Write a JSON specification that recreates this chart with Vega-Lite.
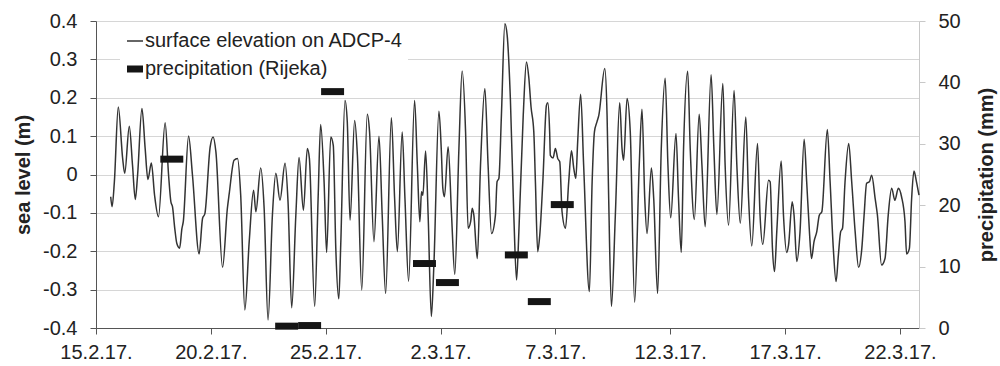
{
  "$schema": "https://vega.github.io/schema/vega-lite/v6.json",
  "width": 823,
  "height": 307,
  "autosize": "none",
  "padding": {"left": 96, "top": 21, "right": 81, "bottom": 38},
  "background": "white",
  "config": {
    "font": "Liberation Sans",
    "view": {"stroke": null},
    "axis": {"labelColor": "#222222", "titleColor": "#222222", "labelFont": "Liberation Sans", "titleFont": "Liberation Sans"},
    "legend": {"labelFont": "Liberation Sans"}
  },
  "layer": [
    {
      "data": {"values": [
        {"day":0.64,"sea":-0.058},{"day":0.70,"sea":-0.084},{"day":0.80,"sea":-0.019},{"day":0.97,"sea":0.176},{"day":1.16,"sea":0.042},{"day":1.25,"sea":0.003},{"day":1.45,"sea":0.126},{"day":1.59,"sea":0.024},{"day":1.71,"sea":-0.065},{"day":1.81,"sea":-0.002},
        {"day":2.00,"sea":0.172},{"day":2.14,"sea":0.068},{"day":2.26,"sea":-0.013},{"day":2.41,"sea":0.030},{"day":2.55,"sea":-0.054},{"day":2.72,"sea":-0.110},{"day":3.01,"sea":0.135},{"day":3.16,"sea":-0.002},{"day":3.26,"sea":-0.071},{"day":3.33,"sea":-0.084},
        {"day":3.43,"sea":-0.141},{"day":3.52,"sea":-0.180},{"day":3.64,"sea":-0.192},{"day":3.74,"sea":-0.141},{"day":3.80,"sea":-0.123},{"day":4.03,"sea":0.100},{"day":4.20,"sea":-0.002},{"day":4.49,"sea":-0.207},{"day":4.64,"sea":-0.114},{"day":4.74,"sea":-0.102},
        {"day":4.97,"sea":0.072},{"day":5.10,"sea":0.098},{"day":5.22,"sea":0.059},{"day":5.51,"sea":-0.242},{"day":5.72,"sea":-0.088},{"day":5.80,"sea":-0.050},{"day":6.01,"sea":0.037},{"day":6.16,"sea":0.042},{"day":6.30,"sea":-0.054},{"day":6.48,"sea":-0.353},
        {"day":6.67,"sea":-0.175},{"day":6.86,"sea":-0.041},{"day":6.96,"sea":-0.097},{"day":7.17,"sea":0.017},{"day":7.32,"sea":-0.088},{"day":7.49,"sea":-0.379},{"day":7.68,"sea":-0.106},{"day":7.83,"sea":0.003},{"day":8.01,"sea":-0.067},{"day":8.23,"sea":0.029},
        {"day":8.36,"sea":-0.071},{"day":8.52,"sea":-0.347},{"day":8.70,"sea":-0.106},{"day":8.84,"sea":0.044},{"day":9.03,"sea":-0.093},{"day":9.20,"sea":0.068},{"day":9.29,"sea":0.042},{"day":9.52,"sea":-0.344},{"day":9.67,"sea":-0.062},{"day":9.78,"sea":0.130},
        {"day":9.93,"sea":-0.019},{"day":10.04,"sea":-0.203},{"day":10.22,"sea":0.098},{"day":10.33,"sea":0.076},{"day":10.44,"sea":-0.193},{"day":10.57,"sea":-0.324},{"day":10.65,"sea":-0.193},{"day":10.84,"sea":0.193},{"day":10.94,"sea":0.137},{"day":11.06,"sea":-0.119},
        {"day":11.26,"sea":0.141},{"day":11.38,"sea":0.050},{"day":11.57,"sea":-0.301},{"day":11.81,"sea":0.157},{"day":11.91,"sea":0.111},{"day":12.10,"sea":-0.175},{"day":12.32,"sea":0.100},{"day":12.46,"sea":-0.106},{"day":12.61,"sea":-0.310},{"day":12.86,"sea":0.148},
        {"day":13.00,"sea":-0.062},{"day":13.12,"sea":-0.201},{"day":13.33,"sea":0.111},{"day":13.45,"sea":-0.062},{"day":13.61,"sea":-0.278},{"day":13.87,"sea":0.193},{"day":13.99,"sea":0.024},{"day":14.10,"sea":-0.123},{"day":14.17,"sea":-0.045},{"day":14.23,"sea":-0.054},
        {"day":14.35,"sea":0.061},{"day":14.46,"sea":-0.106},{"day":14.60,"sea":-0.370},{"day":14.71,"sea":-0.236},{"day":14.93,"sea":0.165},{"day":15.03,"sea":0.068},{"day":15.10,"sea":-0.036},{"day":15.17,"sea":-0.058},{"day":15.33,"sea":0.072},{"day":15.48,"sea":-0.106},
        {"day":15.62,"sea":-0.260},{"day":15.80,"sea":0.068},{"day":15.94,"sea":0.270},{"day":16.09,"sea":0.111},{"day":16.20,"sea":-0.140},{"day":16.31,"sea":-0.123},{"day":16.38,"sea":-0.088},{"day":16.45,"sea":-0.106},{"day":16.60,"sea":-0.219},{"day":16.74,"sea":0.024},
        {"day":16.93,"sea":0.224},{"day":17.07,"sea":0.024},{"day":17.22,"sea":-0.154},{"day":17.39,"sea":-0.106},{"day":17.46,"sea":-0.019},{"day":17.54,"sea":-0.010},{"day":17.65,"sea":0.154},{"day":17.80,"sea":0.393},{"day":17.90,"sea":0.363},{"day":18.04,"sea":0.198},
        {"day":18.19,"sea":-0.106},{"day":18.31,"sea":-0.275},{"day":18.41,"sea":-0.149},{"day":18.60,"sea":0.154},{"day":18.74,"sea":0.293},{"day":18.84,"sea":0.254},{"day":18.94,"sea":0.176},{"day":19.06,"sea":0.111},{"day":19.13,"sea":-0.019},{"day":19.23,"sea":-0.201},
        {"day":19.32,"sea":-0.158},{"day":19.46,"sea":-0.010},{"day":19.61,"sea":0.180},{"day":19.67,"sea":0.187},{"day":19.75,"sea":0.111},{"day":19.78,"sea":0.050},{"day":19.90,"sea":0.043},{"day":20.00,"sea":0.068},{"day":20.10,"sea":0.042},{"day":20.19,"sea":0.033},
        {"day":20.29,"sea":-0.097},{"day":20.44,"sea":-0.140},{"day":20.58,"sea":-0.019},{"day":20.70,"sea":0.062},{"day":20.80,"sea":0.016},{"day":20.89,"sea":-0.010},{"day":20.97,"sea":0.085},{"day":21.10,"sea":0.209},{"day":21.23,"sea":0.024},{"day":21.48,"sea":-0.305},
        {"day":21.60,"sea":-0.019},{"day":21.70,"sea":0.111},{"day":21.81,"sea":0.137},{"day":21.89,"sea":0.154},{"day":22.15,"sea":0.276},{"day":22.25,"sea":0.154},{"day":22.32,"sea":-0.062},{"day":22.44,"sea":-0.344},{"day":22.61,"sea":-0.106},{"day":22.80,"sea":0.187},
        {"day":22.90,"sea":0.068},{"day":22.97,"sea":0.037},{"day":23.12,"sea":0.198},{"day":23.26,"sea":0.111},{"day":23.45,"sea":-0.333},{"day":23.65,"sea":0.024},{"day":23.77,"sea":0.170},{"day":23.89,"sea":-0.062},{"day":23.99,"sea":-0.154},{"day":24.18,"sea":0.017},
        {"day":24.28,"sea":-0.062},{"day":24.45,"sea":-0.310},{"day":24.61,"sea":0.068},{"day":24.78,"sea":0.251},{"day":24.90,"sea":0.024},{"day":25.02,"sea":-0.113},{"day":25.25,"sea":0.107},{"day":25.36,"sea":-0.062},{"day":25.48,"sea":-0.203},{"day":25.58,"sea":0.068},
        {"day":25.76,"sea":0.269},{"day":25.87,"sea":0.068},{"day":26.05,"sea":-0.117},{"day":26.26,"sea":0.157},{"day":26.38,"sea":0.024},{"day":26.52,"sea":-0.136},{"day":26.78,"sea":0.260},{"day":26.90,"sea":0.068},{"day":27.03,"sea":-0.104},{"day":27.29,"sea":0.237},
        {"day":27.39,"sea":0.024},{"day":27.54,"sea":-0.132},{"day":27.78,"sea":0.219},{"day":27.90,"sea":0.024},{"day":28.05,"sea":-0.127},{"day":28.29,"sea":0.150},{"day":28.41,"sea":-0.062},{"day":28.55,"sea":-0.186},{"day":28.80,"sea":0.081},{"day":28.91,"sea":-0.106},
        {"day":29.03,"sea":-0.182},{"day":29.28,"sea":-0.015},{"day":29.35,"sea":-0.019},{"day":29.45,"sea":-0.193},{"day":29.54,"sea":-0.253},{"day":29.64,"sea":-0.147},{"day":29.83,"sea":0.035},{"day":29.93,"sea":-0.106},{"day":30.07,"sea":-0.203},{"day":30.15,"sea":-0.184},
        {"day":30.31,"sea":-0.071},{"day":30.39,"sea":-0.106},{"day":30.51,"sea":-0.227},{"day":30.65,"sea":-0.149},{"day":30.83,"sea":0.092},{"day":30.94,"sea":-0.019},{"day":31.06,"sea":-0.149},{"day":31.15,"sea":-0.219},{"day":31.26,"sea":-0.175},{"day":31.38,"sea":-0.149},
        {"day":31.49,"sea":-0.106},{"day":31.60,"sea":-0.097},{"day":31.84,"sea":0.117},{"day":31.96,"sea":-0.019},{"day":32.10,"sea":-0.193},{"day":32.22,"sea":-0.279},{"day":32.32,"sea":-0.210},{"day":32.42,"sea":-0.149},{"day":32.50,"sea":-0.140},{"day":32.61,"sea":-0.019},
        {"day":32.77,"sea":0.081},{"day":32.90,"sea":-0.019},{"day":33.05,"sea":-0.149},{"day":33.20,"sea":-0.242},{"day":33.34,"sea":-0.193},{"day":33.44,"sea":-0.106},{"day":33.55,"sea":-0.023},{"day":33.67,"sea":-0.019},{"day":33.77,"sea":-0.002},{"day":33.92,"sea":-0.062},
        {"day":34.02,"sea":-0.106},{"day":34.20,"sea":-0.236},{"day":34.35,"sea":-0.219},{"day":34.49,"sea":-0.106},{"day":34.64,"sea":-0.036},{"day":34.78,"sea":-0.067},{"day":34.93,"sea":-0.036},{"day":35.07,"sea":-0.058},{"day":35.22,"sea":-0.123},{"day":35.29,"sea":-0.207},
        {"day":35.41,"sea":-0.193},{"day":35.51,"sea":-0.062},{"day":35.61,"sea":0.009},{"day":35.72,"sea":-0.019},{"day":35.83,"sea":-0.054}
      ]},
      "mark": {"type": "line", "interpolate": "monotone", "strokeJoin": "round", "strokeWidth": 1.5},
      "encoding": {
        "x": {
          "field": "day", "type": "quantitative",
          "scale": {"domain": [0, 35.83], "nice": false, "zero": false},
          "axis": {
            "title": null, "values": [0, 5, 10, 15, 20, 25, 30, 35],
            "labelExpr": "timeFormat(datetime(2017, 1, 15 + datum.value), '%-d.%-m.%y.')",
            "labelFontSize": 20, "labelPadding": 8, "tickSize": 6, "tickColor": "#555555",
            "domainColor": "#555555", "grid": false, "labelFlush": false
          }
        },
        "y": {
          "field": "sea", "type": "quantitative",
          "scale": {"domain": [-0.4, 0.4], "nice": false, "zero": false},
          "axis": {
            "title": "sea level (m)", "orient": "left",
            "values": [-0.4, -0.3, -0.2, -0.1, 0, 0.1, 0.2, 0.3, 0.4],
            "labelExpr": "replace(format(datum.value, '.1~f'), '−', '-')",
            "labelFontSize": 20, "labelPadding": 13, "tickSize": 6, "tickColor": "#555555",
            "domainColor": "#555555", "grid": true, "gridColor": "#d6d6d6",
            "titleFontSize": 20, "titleFontWeight": "bold", "titlePadding": 9
          }
        },
        "color": {
          "datum": "surface elevation on ADCP-4", "type": "nominal",
          "scale": {"domain": ["surface elevation on ADCP-4", "precipitation (Rijeka)"], "range": ["#333333", "#151515"]},
          "legend": {
            "title": null, "orient": "none", "legendX": 24, "legendY": 5,
            "symbolType": "stroke", "symbolSize": 256, "labelFontSize": 20, "labelColor": "#222222",
            "labelOffset": 0, "rowPadding": 4, "fillColor": "white", "padding": 5, "labelLimit": 500,
            "encode": {"symbols": {"update": {"strokeWidth": {"signal": "datum.value == 'precipitation (Rijeka)' ? 7 : 1.5"}}}}
          }
        }
      }
    },
    {
      "data": {"values": [
        {"start": 2.8, "end": 3.8, "mm": 27.5},
        {"start": 7.8, "end": 8.8, "mm": 0.3},
        {"start": 8.8, "end": 9.8, "mm": 0.4},
        {"start": 9.8, "end": 10.8, "mm": 38.5},
        {"start": 13.8, "end": 14.8, "mm": 10.5},
        {"start": 14.8, "end": 15.8, "mm": 7.4},
        {"start": 17.8, "end": 18.8, "mm": 11.9},
        {"start": 18.8, "end": 19.8, "mm": 4.3},
        {"start": 19.8, "end": 20.8, "mm": 20.1}
      ]},
      "mark": {"type": "rule", "strokeCap": "butt", "strokeWidth": 7},
      "encoding": {
        "x": {"field": "start", "type": "quantitative"},
        "x2": {"field": "end"},
        "y": {
          "field": "mm", "type": "quantitative",
          "scale": {"domain": [0, 50], "nice": false, "zero": true},
          "axis": {
            "title": "precipitation (mm)", "orient": "right",
            "values": [0, 10, 20, 30, 40, 50],
            "labelFontSize": 20, "labelPadding": 13, "tickSize": 6, "tickColor": "#c8c8c8",
            "domainColor": "#c8c8c8", "grid": false,
            "titleFontSize": 20, "titleFontWeight": "bold", "titleAngle": 270, "titlePadding": 36
          }
        },
        "color": {"datum": "precipitation (Rijeka)", "type": "nominal"}
      }
    }
  ],
  "resolve": {"scale": {"y": "independent"}}
}
